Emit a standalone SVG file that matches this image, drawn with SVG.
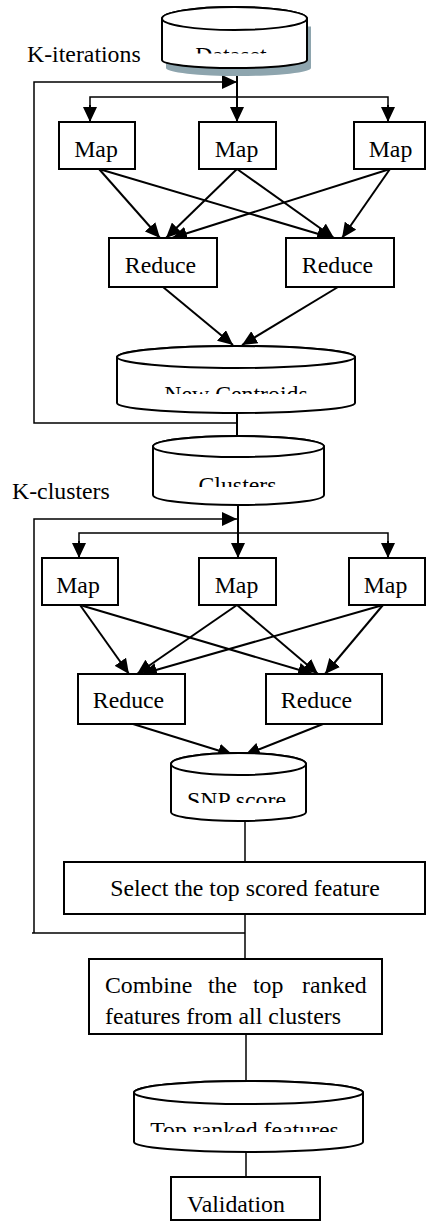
<svg xmlns="http://www.w3.org/2000/svg" width="426" height="1222" viewBox="0 0 426 1222">
<style>
.box{fill:#fff;stroke:#000;stroke-width:2}
.cyl{fill:#fff;stroke:#000;stroke-width:2}
.ln{fill:none;stroke:#000;stroke-width:2}
.thin{fill:none;stroke:#000;stroke-width:1.5}
.t{font-family:"Liberation Serif","Times New Roman",serif;font-size:23.8px;fill:#000}
.c{text-anchor:middle}
</style>
<defs>
<marker id="ah" markerUnits="userSpaceOnUse" markerWidth="15" markerHeight="14" refX="15" refY="7" orient="auto">
<path d="M0,0 L15,7 L0,14 Z" fill="#000"/>
</marker>
<clipPath id="cpD"><rect x="150" y="0" width="170" height="53.5"/></clipPath>
<clipPath id="cpN"><rect x="110" y="370" width="250" height="24"/></clipPath>
<clipPath id="cpC"><rect x="150" y="460" width="180" height="27"/></clipPath>
<clipPath id="cpS"><rect x="165" y="777" width="145" height="26"/></clipPath>
<clipPath id="cpT"><rect x="130" y="1106" width="240" height="26"/></clipPath>
</defs>

<text class="t" x="27" y="62">K-iterations</text>
<text class="t" x="12" y="499">K-clusters</text>

<g id="connectors">
<line class="ln" x1="237" y1="68" x2="237" y2="122" marker-end="url(#ah)"/>
<polyline class="thin" points="90,122 90,97 388,97 388,122"/>
<line class="ln" x1="90" y1="105" x2="90" y2="122" marker-end="url(#ah)"/>
<line class="ln" x1="388" y1="105" x2="388" y2="122" marker-end="url(#ah)"/>
<polyline class="thin" points="237,423 34,423 34,82 237,82" marker-end="url(#ah)"/>
<line class="ln" x1="99" y1="169" x2="160" y2="238" marker-end="url(#ah)"/>
<line class="ln" x1="99" y1="169" x2="332" y2="238" marker-end="url(#ah)"/>
<line class="ln" x1="237" y1="169" x2="166" y2="238" marker-end="url(#ah)"/>
<line class="ln" x1="237" y1="169" x2="334" y2="238" marker-end="url(#ah)"/>
<line class="ln" x1="390" y1="169" x2="172" y2="238" marker-end="url(#ah)"/>
<line class="ln" x1="390" y1="169" x2="342" y2="238" marker-end="url(#ah)"/>
<line class="ln" x1="163" y1="287" x2="233" y2="345" marker-end="url(#ah)"/>
<line class="ln" x1="338" y1="287" x2="242" y2="345" marker-end="url(#ah)"/>
<line class="ln" x1="237" y1="413" x2="237" y2="436"/>
<line class="ln" x1="238" y1="505" x2="238" y2="558" marker-end="url(#ah)"/>
<polyline class="thin" points="79,558 79,533 388,533 388,558"/>
<line class="ln" x1="79" y1="541" x2="79" y2="558" marker-end="url(#ah)"/>
<line class="ln" x1="388" y1="541" x2="388" y2="558" marker-end="url(#ah)"/>
<polyline class="thin" points="245,933 32,933"/>
<polyline class="thin" points="34,933 34,519 237,519" marker-end="url(#ah)"/>
<line class="ln" x1="80" y1="605" x2="129" y2="674" marker-end="url(#ah)"/>
<line class="ln" x1="80" y1="605" x2="313" y2="674" marker-end="url(#ah)"/>
<line class="ln" x1="237" y1="605" x2="137" y2="674" marker-end="url(#ah)"/>
<line class="ln" x1="237" y1="605" x2="318" y2="674" marker-end="url(#ah)"/>
<line class="ln" x1="383" y1="605" x2="142" y2="674" marker-end="url(#ah)"/>
<line class="ln" x1="383" y1="605" x2="325" y2="674" marker-end="url(#ah)"/>
<line class="ln" x1="133" y1="724" x2="233" y2="755" marker-end="url(#ah)"/>
<line class="ln" x1="323" y1="724" x2="245" y2="755" marker-end="url(#ah)"/>
<line class="thin" x1="245" y1="821" x2="245" y2="862"/>
<line class="thin" x1="245" y1="914" x2="245" y2="959"/>
<line class="thin" x1="246" y1="1034" x2="246" y2="1081"/>
<line class="thin" x1="246" y1="1152" x2="246" y2="1177"/>
</g>

<g id="dataset">
<path d="M166,26.5 V68 A72.5,8 0 0 0 311,68 V26.5 Z" fill="#8ea5ae"/>
<path class="cyl" d="M162,18.5 V60 A72.5,8 0 0 0 307,60 V18.5 A72.5,11.5 0 0 0 162,18.5 Z"/>
<ellipse class="cyl" cx="234.5" cy="18.5" rx="72.5" ry="11.5"/>
<text class="t c" x="231" y="62.8" clip-path="url(#cpD)">Dataset</text>
</g>

<g id="map1"><rect class="box" x="59" y="122" width="76" height="47"/><text class="t c" x="96" y="157">Map</text></g>
<g id="map2"><rect class="box" x="199" y="122" width="77" height="47"/><text class="t c" x="236.5" y="157">Map</text></g>
<g id="map3"><rect class="box" x="354" y="122" width="71" height="47"/><text class="t c" x="390.5" y="157">Map</text></g>
<g id="reduce1"><rect class="box" x="109" y="238" width="108" height="49"/><text class="t c" x="160.5" y="273">Reduce</text></g>
<g id="reduce2"><rect class="box" x="286" y="238" width="108" height="49"/><text class="t c" x="337.5" y="273">Reduce</text></g>

<g id="newcentroids">
<path class="cyl" d="M117,357 V403 A119,10 0 0 0 355,403 V357 A119,11 0 0 0 117,357 Z"/>
<ellipse class="cyl" cx="236" cy="357" rx="119" ry="11"/>
<text class="t c" x="236" y="402.3" clip-path="url(#cpN)">New Centroids</text>
</g>

<g id="clusters">
<path class="cyl" d="M153,446.5 V495 A85.5,10 0 0 0 324,495 V446.5 A85.5,10.5 0 0 0 153,446.5 Z"/>
<ellipse class="cyl" cx="238.5" cy="446.5" rx="85.5" ry="10.5"/>
<text class="t c" x="237.5" y="493.3" clip-path="url(#cpC)">Clusters</text>
</g>

<g id="map4"><rect class="box" x="42" y="558" width="76" height="47"/><text class="t c" x="78" y="593">Map</text></g>
<g id="map5"><rect class="box" x="199" y="558" width="77" height="47"/><text class="t c" x="236.5" y="593">Map</text></g>
<g id="map6"><rect class="box" x="349" y="558" width="76" height="47"/><text class="t c" x="385.5" y="593">Map</text></g>
<g id="reduce3"><rect class="box" x="78" y="674" width="107" height="50"/><text class="t c" x="128.5" y="708">Reduce</text></g>
<g id="reduce4"><rect class="box" x="266" y="674" width="116" height="50"/><text class="t c" x="316.5" y="708">Reduce</text></g>

<g id="snpscore">
<path class="cyl" d="M171,764 V812 A67.5,9 0 0 0 306,812 V764 A67.5,11 0 0 0 171,764 Z"/>
<ellipse class="cyl" cx="238.5" cy="764" rx="67.5" ry="11"/>
<text class="t c" x="236.5" y="808.3" clip-path="url(#cpS)">SNP score</text>
</g>

<g id="select"><rect class="box" x="64" y="862" width="361" height="52"/><text class="t c" x="245" y="896">Select the top scored feature</text></g>

<g id="combine"><rect class="box" x="89" y="959" width="293" height="75"/>
<text class="t" y="993"><tspan x="105">Combine</tspan><tspan x="208">the</tspan><tspan x="253">top</tspan><tspan x="302">ranked</tspan></text>
<text class="t" x="105" y="1024">features from all clusters</text>
</g>

<g id="topranked">
<path class="cyl" d="M134,1092.5 V1142 A114.5,10 0 0 0 363,1142 V1092.5 A114.5,11.5 0 0 0 134,1092.5 Z"/>
<ellipse class="cyl" cx="248.5" cy="1092.5" rx="114.5" ry="11.5"/>
<text class="t c" x="244.5" y="1138.3" clip-path="url(#cpT)">Top ranked features</text>
</g>

<g id="validation"><rect class="box" x="171" y="1177" width="149" height="43"/><text class="t c" x="236" y="1212">Validation</text></g>
</svg>
